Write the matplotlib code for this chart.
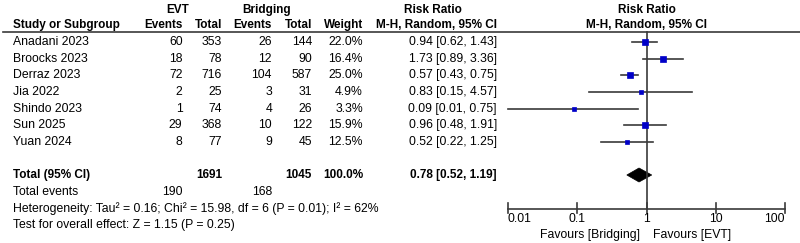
import matplotlib
matplotlib.use("Agg")
import matplotlib.pyplot as plt
from matplotlib.patches import Polygon

plt.rcParams['font.family'] = ['Liberation Sans', 'DejaVu Sans']

studies = ["Anadani 2023", "Broocks 2023", "Derraz 2023", "Jia 2022", "Shindo 2023", "Sun 2025", "Yuan 2024"]
evt_events = [60, 18, 72, 2, 1, 29, 8]
evt_total = [353, 78, 716, 25, 74, 368, 77]
br_events = [26, 12, 104, 3, 4, 10, 9]
br_total = [144, 90, 587, 31, 26, 122, 45]
weights = [22.0, 16.4, 25.0, 4.9, 3.3, 15.9, 12.5]
rr = [0.94, 1.73, 0.57, 0.83, 0.09, 0.96, 0.52]
lo = [0.62, 0.89, 0.43, 0.15, 0.01, 0.48, 0.22]
hi = [1.43, 3.36, 0.75, 4.57, 0.75, 1.91, 1.25]

total_evt, total_br = 1691, 1045
events_evt, events_br = 190, 168
pooled = (0.78, 0.52, 1.19)
heterogeneity = "Heterogeneity: Tau² = 0.16; Chi² = 15.98, df = 6 (P = 0.01); I² = 62%"
overall = "Test for overall effect: Z = 1.15 (P = 0.25)"
ticks = [0.01, 0.1, 1, 10, 100]
tick_labels = ["0.01", "0.1", "1", "10", "100"]

W, H = 800, 243
fig = plt.figure(figsize=(W / 100, H / 100), dpi=100)
ax = fig.add_axes([0, 0, 1, 1])
ax.set_xlim(0, W)
ax.set_ylim(H, 0)
ax.axis('off')

FS = 8.8
FSB = 8.5
lc = '#3a3a3a'

def t(x, y, s, ha='left', bold=False):
    ax.text(x, y, s, ha=ha, va='center', fontsize=FSB if bold else FS,
            fontweight='bold' if bold else 'normal', color='black')

# headers
t(177.5, 10, "EVT", 'center', True)
t(267, 10, "Bridging", 'center', True)
t(433, 10, "Risk Ratio", 'center', True)
t(646.5, 10, "Risk Ratio", 'center', True)
t(13, 25, "Study or Subgroup", bold=True)
t(182.5, 25, "Events", 'right', True)
t(222, 25, "Total", 'right', True)
t(272, 25, "Events", 'right', True)
t(312, 25, "Total", 'right', True)
t(363, 25, "Weight", 'right', True)
t(497, 25, "M-H, Random, 95% CI", 'right', True)
t(646.5, 25, "M-H, Random, 95% CI", 'center', True)
ax.plot([3, 800], [32, 32], color=lc, lw=1.2)

row0, dy = 42, 16.65
rows_y = [row0 + i * dy for i in range(len(studies))]
for i, y in enumerate(rows_y):
    t(13, y, studies[i])
    t(182.5, y, str(evt_events[i]), 'right')
    t(222, y, str(evt_total[i]), 'right')
    t(272, y, str(br_events[i]), 'right')
    t(312, y, str(br_total[i]), 'right')
    t(363, y, f"{weights[i]:.1f}%", 'right')
    t(497, y, f"{rr[i]:.2f} [{lo[i]:.2f}, {hi[i]:.2f}]", 'right')

y_tot = 175
t(13, y_tot, "Total (95% CI)", bold=True)
t(222, y_tot, str(total_evt), 'right', True)
t(312, y_tot, str(total_br), 'right', True)
t(363, y_tot, f"{sum(weights):.1f}%", 'right', True)
t(497, y_tot, f"{pooled[0]:.2f} [{pooled[1]:.2f}, {pooled[2]:.2f}]", 'right', True)
t(13, 192, "Total events")
t(182.5, 192, str(events_evt), 'right')
t(272, 192, str(events_br), 'right')
t(13, 208.5, heterogeneity)
t(13, 225, overall)

# forest axes
x0, x1 = 508, 785
fax = fig.add_axes([x0 / W, 0, (x1 - x0) / W, 1])
fax.set_xscale('log')
fax.set_xlim(0.01, 100)
fax.set_ylim(H, 0)
fax.axis('off')

axis_y = 209
fax.plot([1, 1], [32, axis_y], color=lc, lw=1.2, clip_on=False)
fax.plot([0.01, 100], [axis_y, axis_y], color=lc, lw=1.2, clip_on=False)
for k, tk in enumerate(ticks):
    fax.plot([tk, tk], [203, 213], color=lc, lw=1.2, clip_on=False)
    ha = 'left' if k == 0 else ('right' if k == len(ticks) - 1 else 'center')
    fax.text(tk, 219, tick_labels[k], ha=ha, va='center', fontsize=FS, color='black')
fax.text(0.81, 234.5, "Favours [Bridging]", ha='right', va='center', fontsize=FS)
fax.text(1.25, 234.5, "Favours [EVT]", ha='left', va='center', fontsize=FS)

for i, y in enumerate(rows_y):
    fax.plot([lo[i], hi[i]], [y, y], color=lc, lw=1.2, clip_on=False)
    px = 2.8 + 0.16 * weights[i]
    fax.plot([rr[i]], [y], marker='s', linestyle='none', markersize=px * 0.72,
             markerfacecolor='#0000c8', markeredgecolor='#0000c8', markeredgewidth=0.5,
             clip_on=False)

dh = 7
diamond = Polygon([(pooled[1], y_tot), (pooled[0], y_tot - dh),
                   (pooled[2], y_tot), (pooled[0], y_tot + dh)],
                  closed=True, facecolor='black', edgecolor='black', lw=0.5)
fax.add_patch(diamond)

fig.savefig("out.png", dpi=100)
